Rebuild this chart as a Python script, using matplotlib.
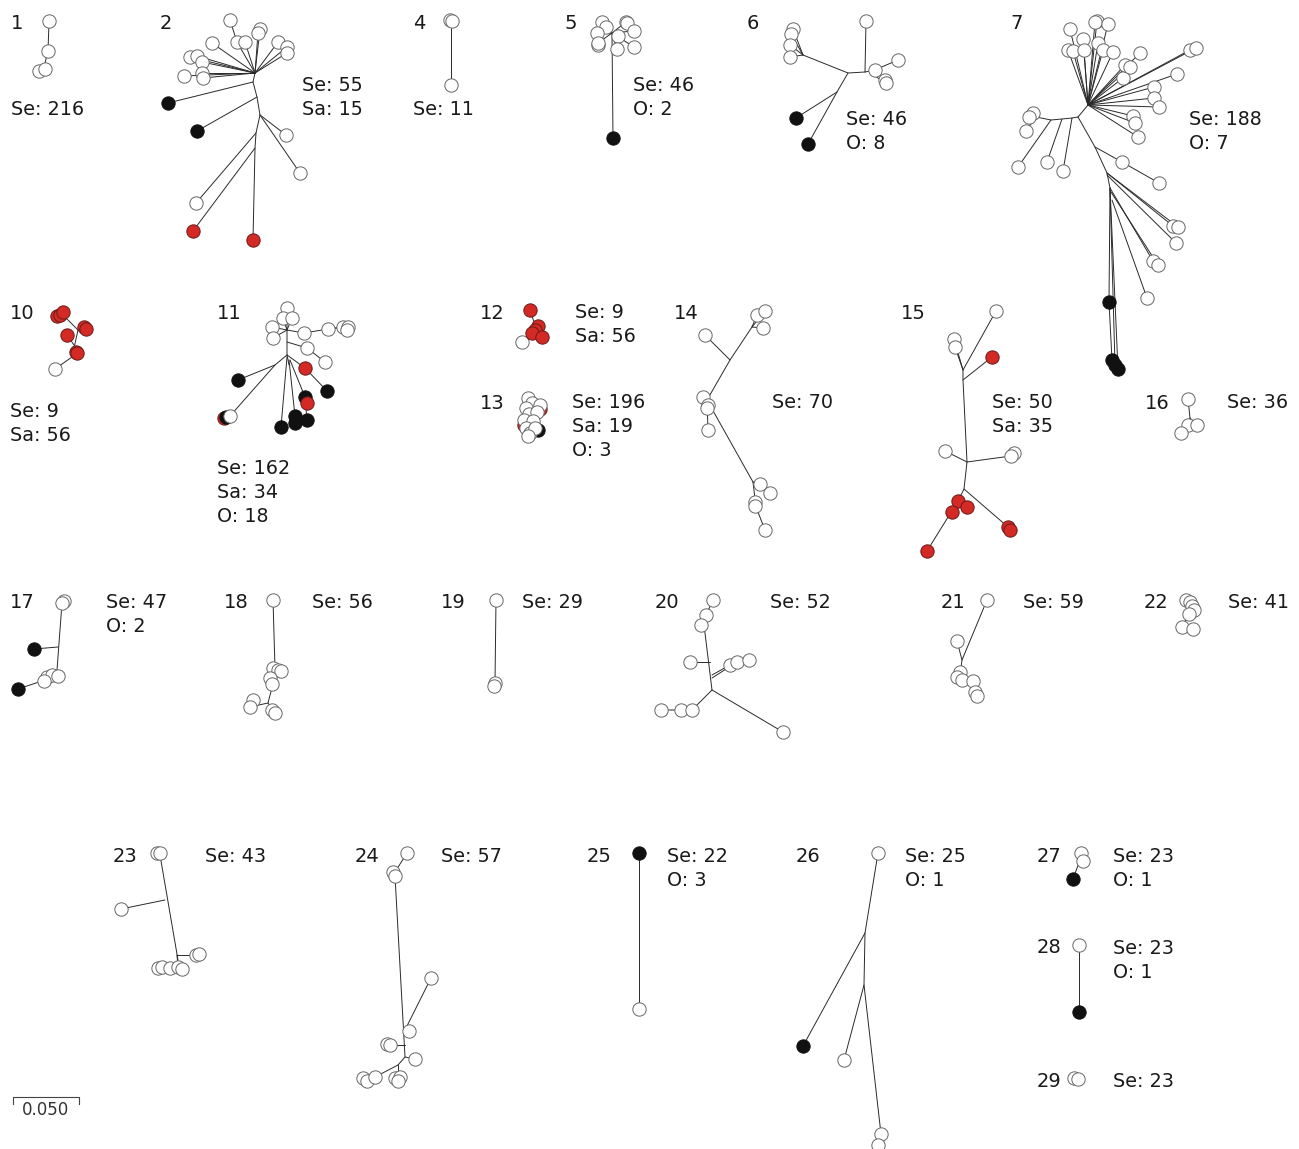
import matplotlib.pyplot as plt

# tree layouts, pixel coords of the original figure (x right, y down)
# edges are polylines, tips are (x, y, colour) with w=white, k=black, r=red

edges_1 = [[(49, 22), (48, 51), (44, 67)]]
tips_1 = [(49, 21, 'w'), (48, 51, 'w'), (39, 71, 'w'), (45, 69, 'w')]

edges_2 = [[(255, 73), (253, 82), (257, 97), (260, 115), (256, 133), (255, 148), (253, 240)],
           [(255, 73), (184, 76)], [(255, 73), (202, 73)], [(255, 73), (203, 78)],
           [(255, 73), (190, 57)], [(255, 73), (197, 56)], [(255, 73), (202, 62)],
           [(255, 73), (212, 43)], [(255, 73), (237, 42), (230, 20)], [(255, 73), (245, 42)],
           [(255, 73), (258, 33)], [(255, 73), (260, 29)], [(255, 73), (278, 42)],
           [(255, 73), (287, 47)], [(255, 73), (287, 53)],
           [(253, 82), (168, 103)], [(257, 97), (197, 131)],
           [(260, 115), (286, 135)], [(260, 115), (300, 173)],
           [(256, 133), (196, 203)], [(255, 148), (193, 231)]]
tips_2 = [(230, 20, 'w'), (237, 42, 'w'), (245, 42, 'w'), (260, 29, 'w'), (258, 33, 'w'),
          (278, 42, 'w'), (287, 47, 'w'), (287, 53, 'w'), (212, 43, 'w'), (190, 57, 'w'),
          (197, 56, 'w'), (202, 62, 'w'), (184, 76, 'w'), (202, 73, 'w'), (203, 78, 'w'),
          (286, 135, 'w'), (300, 173, 'w'), (196, 203, 'w'),
          (168, 103, 'k'), (197, 131, 'k'), (193, 231, 'r'), (253, 240, 'r')]

edges_4 = [[(451, 21), (451, 85)]]
tips_4 = [(450, 20, 'w'), (452, 21, 'w'), (451, 85, 'w')]

edges_5 = [[(613, 138), (612, 33)]] + [[(612, 33), p] for p in
           [(602, 22), (606, 27), (597, 33), (598, 43), (618, 36), (617, 49), (626, 22), (634, 31), (634, 47)]]
tips_5 = [(602, 22, 'w'), (606, 27, 'w'), (597, 33, 'w'), (598, 45, 'w'), (598, 43, 'w'),
          (618, 36, 'w'), (617, 49, 'w'), (626, 22, 'w'), (627, 23, 'w'), (634, 31, 'w'),
          (634, 47, 'w'), (613, 138, 'k')]

edges_6 = [[(803, 55), (848, 73), (865, 72), (866, 21)], [(865, 72), (875, 70)],
           [(870, 72), (898, 60)], [(870, 73), (886, 83)],
           [(803, 55), (793, 29)], [(803, 55), (791, 34)], [(803, 55), (790, 45)], [(803, 55), (790, 57)],
           [(848, 73), (837, 92), (796, 118)], [(837, 92), (808, 144)]]
tips_6 = [(866, 21, 'w'), (875, 70, 'w'), (898, 60, 'w'), (885, 80, 'w'), (886, 83, 'w'),
          (793, 29, 'w'), (791, 34, 'w'), (790, 45, 'w'), (790, 57, 'w'),
          (796, 118, 'k'), (808, 144, 'k')]

top_7 = [(1070, 29), (1068, 50), (1073, 51), (1083, 39), (1084, 50), (1097, 21), (1095, 22),
         (1098, 43), (1103, 50), (1108, 24), (1113, 52), (1123, 78), (1125, 65), (1130, 67),
         (1140, 53), (1190, 50), (1196, 48), (1177, 74), (1154, 87), (1154, 98), (1159, 107),
         (1133, 116), (1135, 123), (1138, 137)]
edges_7 = [[(1088, 105), p] for p in top_7] + [
    [(1088, 105), (1078, 117)],
    [(1078, 117), (1072, 118), (1062, 119), (1051, 120), (1036, 117), (1033, 113)],
    [(1036, 117), (1029, 117)], [(1036, 117), (1026, 131)],
    [(1072, 118), (1063, 171)], [(1062, 119), (1047, 162)], [(1051, 120), (1018, 167)],
    [(1078, 117), (1095, 147), (1107, 173), (1110, 188), (1109, 302), (1112, 360)],
    [(1110, 188), (1115, 365)], [(1110, 188), (1118, 369)],
    [(1095, 147), (1122, 162), (1159, 183)], [(1107, 173), (1173, 226)], [(1107, 173), (1178, 227)],
    [(1107, 175), (1176, 243)], [(1110, 188), (1153, 261)], [(1111, 192), (1158, 265)],
    [(1112, 200), (1147, 298)]]
tips_7 = [p + ('w',) for p in top_7] + [
    (1033, 113, 'w'), (1029, 117, 'w'), (1026, 131, 'w'), (1018, 167, 'w'), (1047, 162, 'w'),
    (1063, 171, 'w'), (1122, 162, 'w'), (1159, 183, 'w'), (1173, 226, 'w'), (1178, 227, 'w'),
    (1176, 243, 'w'), (1153, 261, 'w'), (1158, 265, 'w'), (1147, 298, 'w'),
    (1109, 302, 'k'), (1112, 360, 'k'), (1115, 365, 'k'), (1118, 369, 'k')]

edges_10 = [[(55, 369), (72, 357), (78, 330), (62, 314)], [(78, 330), (85, 328)],
            [(74, 345), (67, 335)], [(72, 357), (76, 352)]]
tips_10 = [(55, 369, 'w'), (57, 316, 'r'), (60, 315, 'r'), (63, 312, 'r'), (84, 327, 'r'),
           (86, 329, 'r'), (67, 335, 'r'), (76, 352, 'r'), (77, 353, 'r')]

edges_11 = [[(287, 312), (287, 330), (287, 355), (289, 365)],
            [(287, 330), (272, 327)], [(287, 330), (273, 338)], [(287, 330), (283, 318)],
            [(287, 330), (292, 318)], [(287, 330), (304, 333), (328, 329), (343, 327)],
            [(328, 329), (348, 327)], [(287, 342), (307, 348), (325, 362)],
            [(287, 355), (305, 368), (327, 391)], [(287, 355), (275, 365), (238, 380)],
            [(275, 365), (230, 416)], [(287, 357), (281, 427)], [(289, 360), (295, 416)],
            [(290, 360), (305, 397), (307, 420)]]
tips_11 = [(287, 308, 'w'), (283, 318, 'w'), (292, 318, 'w'), (272, 327, 'w'), (273, 338, 'w'),
           (304, 333, 'w'), (328, 329, 'w'), (343, 327, 'w'), (348, 327, 'w'), (347, 330, 'w'),
           (307, 348, 'w'), (325, 362, 'w'), (305, 368, 'r'), (238, 380, 'k'), (327, 391, 'k'),
           (305, 397, 'k'), (307, 403, 'r'), (281, 427, 'k'), (295, 416, 'k'), (295, 423, 'k'),
           (307, 420, 'k'), (224, 418, 'r'), (226, 417, 'k'), (230, 416, 'w')]

edges_12 = [[(522, 342), (532, 335)], [(530, 310), (535, 325)]]
tips_12 = [(522, 342, 'w'), (530, 310, 'r'), (538, 326, 'r'), (535, 330, 'r'),
           (532, 333, 'r'), (542, 337, 'r')]

edges_13 = [[(530, 400), (533, 430)], [(533, 412), (540, 409)]]
tips_13 = [(528, 398, 'w'), (532, 403, 'w'), (526, 408, 'w'), (540, 409, 'r'), (540, 405, 'w'),
           (529, 414, 'w'), (537, 412, 'w'), (524, 425, 'r'), (524, 420, 'w'), (533, 421, 'w'),
           (526, 428, 'w'), (538, 430, 'k'), (530, 433, 'w'), (535, 428, 'w'), (528, 436, 'w')]

edges_14 = [[(757, 315), (752, 327), (730, 360), (705, 335)], [(752, 327), (763, 328)],
            [(752, 327), (765, 311)], [(730, 360), (707, 400), (753, 482), (756, 507), (765, 530)],
            [(707, 400), (708, 430)], [(753, 482), (770, 493)], [(753, 482), (760, 484)]]
tips_14 = [(757, 315, 'w'), (765, 311, 'w'), (763, 328, 'w'), (705, 335, 'w'), (703, 397, 'w'),
           (708, 405, 'w'), (707, 408, 'w'), (708, 430, 'w'), (760, 484, 'w'), (770, 493, 'w'),
           (755, 502, 'w'), (755, 506, 'w'), (765, 530, 'w')]

edges_15 = [[(955, 347), (963, 370), (963, 380), (967, 462), (964, 489), (958, 501)],
            [(963, 370), (996, 311)], [(963, 380), (992, 357)], [(963, 370), (954, 339)],
            [(967, 462), (945, 451)], [(967, 462), (1011, 456)], [(964, 489), (1008, 527)],
            [(958, 501), (927, 551)], [(960, 495), (967, 507)]]
tips_15 = [(996, 311, 'w'), (954, 339, 'w'), (955, 347, 'w'), (945, 451, 'w'), (1014, 453, 'w'),
           (1011, 456, 'w'), (992, 357, 'r'), (958, 501, 'r'), (967, 507, 'r'), (952, 512, 'r'),
           (927, 551, 'r'), (1008, 527, 'r'), (1010, 530, 'r')]

edges_16 = [[(1188, 399), (1190, 418), (1181, 433)], [(1190, 418), (1197, 425)]]
tips_16 = [(1188, 399, 'w'), (1188, 425, 'w'), (1197, 425, 'w'), (1181, 433, 'w')]

edges_17 = [[(62, 603), (57, 670)], [(58, 647), (34, 649)], [(45, 680), (18, 689)]]
tips_17 = [(64, 601, 'w'), (62, 603, 'w'), (47, 677, 'w'), (52, 675, 'w'), (58, 676, 'w'),
           (44, 681, 'w'), (34, 649, 'k'), (18, 689, 'k')]

edges_18 = [[(273, 600), (275, 668)], [(274, 680), (268, 703), (250, 707)], [(268, 703), (273, 710)]]
tips_18 = [(273, 600, 'w'), (273, 668, 'w'), (278, 670, 'w'), (281, 671, 'w'), (270, 678, 'w'),
           (272, 684, 'w'), (253, 700, 'w'), (250, 707, 'w'), (272, 710, 'w'), (275, 713, 'w')]

edges_19 = [[(496, 600), (495, 683)]]
tips_19 = [(496, 600, 'w'), (495, 683, 'w'), (494, 686, 'w')]

edges_20 = [[(713, 600), (706, 615), (704, 625), (712, 690)], [(710, 662), (690, 662)],
            [(712, 675), (730, 665)], [(712, 678), (737, 662), (749, 660)],
            [(712, 690), (692, 710), (661, 710)], [(712, 690), (783, 732)]]
tips_20 = [(713, 600, 'w'), (706, 615, 'w'), (701, 625, 'w'), (690, 662, 'w'), (730, 665, 'w'),
           (737, 662, 'w'), (749, 660, 'w'), (661, 710, 'w'), (681, 710, 'w'), (692, 710, 'w'),
           (783, 732, 'w')]

edges_21 = [[(987, 600), (962, 660), (960, 675)], [(962, 660), (957, 641)], [(962, 670), (975, 692)]]
tips_21 = [(987, 600, 'w'), (957, 641, 'w'), (960, 672, 'w'), (957, 677, 'w'), (962, 680, 'w'),
           (973, 681, 'w'), (975, 692, 'w'), (977, 696, 'w')]

edges_22 = [[(1189, 614), (1182, 627)]]
tips_22 = [(1186, 600, 'w'), (1190, 602, 'w'), (1192, 606, 'w'), (1194, 610, 'w'),
           (1189, 614, 'w'), (1182, 627, 'w'), (1193, 629, 'w')]

edges_23 = [[(160, 855), (178, 960)], [(165, 900), (121, 909)], [(177, 955), (196, 955)],
            [(177, 955), (178, 967)]]
tips_23 = [(157, 853, 'w'), (160, 853, 'w'), (121, 909, 'w'), (196, 955, 'w'), (199, 954, 'w'),
           (158, 968, 'w'), (162, 967, 'w'), (170, 968, 'w'), (178, 967, 'w'), (182, 969, 'w')]

edges_24 = [[(407, 853), (395, 872)], [(395, 876), (405, 1057), (398, 1065)],
            [(405, 1030), (431, 978)], [(405, 1057), (415, 1059)], [(405, 1045), (390, 1045)],
            [(398, 1065), (375, 1077)], [(398, 1065), (398, 1078)]]
tips_24 = [(407, 853, 'w'), (393, 872, 'w'), (395, 876, 'w'), (431, 978, 'w'), (409, 1031, 'w'),
           (387, 1044, 'w'), (390, 1045, 'w'), (415, 1059, 'w'), (363, 1078, 'w'), (367, 1081, 'w'),
           (375, 1077, 'w'), (395, 1078, 'w'), (400, 1077, 'w'), (398, 1081, 'w')]

edges_25 = [[(639, 853), (639, 1009)]]
tips_25 = [(639, 853, 'k'), (639, 1009, 'w')]

edges_26 = [[(878, 853), (865, 933), (864, 985), (881, 1134)], [(865, 933), (803, 1046)],
            [(864, 985), (844, 1060)]]
tips_26 = [(878, 853, 'w'), (803, 1046, 'k'), (844, 1060, 'w'), (881, 1134, 'w'), (878, 1145, 'w')]

edges_27 = [[(1073, 879), (1080, 860)]]
tips_27 = [(1081, 853, 'w'), (1083, 861, 'w'), (1073, 879, 'k')]

edges_28 = [[(1079, 945), (1079, 1012)]]
tips_28 = [(1079, 945, 'w'), (1079, 1012, 'k')]

edges_29 = []
tips_29 = [(1074, 1078, 'w'), (1078, 1079, 'w')]

# cluster numbers and their sample counts
cluster_ids = ['1', '2', '4', '5', '6', '7', '10', '11', '12', '13', '14', '15', '16', '17',
               '18', '19', '20', '21', '22', '23', '24', '25', '26', '27', '28', '29']
id_pos = [(11, 22), (160, 22), (413, 22), (565, 22), (747, 22), (1010, 22),
          (10, 312), (217, 312), (480, 312), (480, 402), (674, 312), (901, 312), (1145, 402),
          (10, 601), (224, 601), (441, 601), (655, 601), (941, 601), (1144, 601),
          (113, 855), (355, 855), (587, 855), (796, 855), (1037, 855), (1037, 946), (1037, 1080)]
counts = [['Se: 216'], ['Se: 55', 'Sa: 15'], ['Se: 11'], ['Se: 46', 'O: 2'], ['Se: 46', 'O: 8'],
          ['Se: 188', 'O: 7'], ['Se: 9', 'Sa: 56'], ['Se: 162', 'Sa: 34', 'O: 18'],
          ['Se: 9', 'Sa: 56'], ['Se: 196', 'Sa: 19', 'O: 3'], ['Se: 70'], ['Se: 50', 'Sa: 35'],
          ['Se: 36'], ['Se: 47', 'O: 2'], ['Se: 56'], ['Se: 29'], ['Se: 52'], ['Se: 59'],
          ['Se: 41'], ['Se: 43'], ['Se: 57'], ['Se: 22', 'O: 3'], ['Se: 25', 'O: 1'],
          ['Se: 23', 'O: 1'], ['Se: 23', 'O: 1'], ['Se: 23']]
count_pos = [(11, 108), (302, 84), (413, 108), (633, 84), (846, 118), (1189, 118),
             (10, 410), (217, 467), (575, 311), (572, 401), (772, 401), (992, 401), (1227, 401),
             (106, 601), (312, 601), (522, 601), (770, 601), (1023, 601), (1228, 601),
             (205, 855), (441, 855), (667, 855), (905, 855), (1113, 855), (1113, 947), (1113, 1080)]

trees = [(edges_1, tips_1), (edges_2, tips_2), (edges_4, tips_4), (edges_5, tips_5),
         (edges_6, tips_6), (edges_7, tips_7), (edges_10, tips_10), (edges_11, tips_11),
         (edges_12, tips_12), (edges_13, tips_13), (edges_14, tips_14), (edges_15, tips_15),
         (edges_16, tips_16), (edges_17, tips_17), (edges_18, tips_18), (edges_19, tips_19),
         (edges_20, tips_20), (edges_21, tips_21), (edges_22, tips_22), (edges_23, tips_23),
         (edges_24, tips_24), (edges_25, tips_25), (edges_26, tips_26), (edges_27, tips_27),
         (edges_28, tips_28), (edges_29, tips_29)]

face = {'w': 'white', 'k': '#111111', 'r': '#d42a26'}
edge = {'w': '#666666', 'k': '#111111', 'r': '#6a1a18'}

fig = plt.figure(figsize=(12.99, 11.49), dpi=100)
ax = fig.add_axes([0, 0, 1, 1])
ax.set_xlim(0, 1299)
ax.set_ylim(1149, 0)
ax.axis('off')

for edges, tips in trees:
    for line in edges:
        xs = [p[0] for p in line]
        ys = [p[1] for p in line]
        ax.plot(xs, ys, color='#2a2a2a', lw=0.7, zorder=1, solid_capstyle='round')
    for i, (x, y, c) in enumerate(tips):
        ax.scatter([x], [y], s=92, facecolor=face[c], edgecolor=edge[c], linewidths=0.7,
                   zorder=2 + i * 0.01)

for cid, (x, y) in zip(cluster_ids, id_pos):
    ax.text(x, y + 7, cid, fontsize=14, color='#1a1a1a', ha='left', va='baseline')

for lines, (x, y) in zip(counts, count_pos):
    for j, s in enumerate(lines):
        ax.text(x, y + 7 + 24 * j, s, fontsize=13.8, color='#1a1a1a', ha='left', va='baseline')

# scale bar
ax.plot([13, 13, 79, 79], [1104, 1097, 1097, 1104], color='#444444', lw=0.8)
ax.text(46, 1115, '0.050', fontsize=12, color='#333333', ha='center', va='baseline')

fig.savefig('out.png', dpi=100)
